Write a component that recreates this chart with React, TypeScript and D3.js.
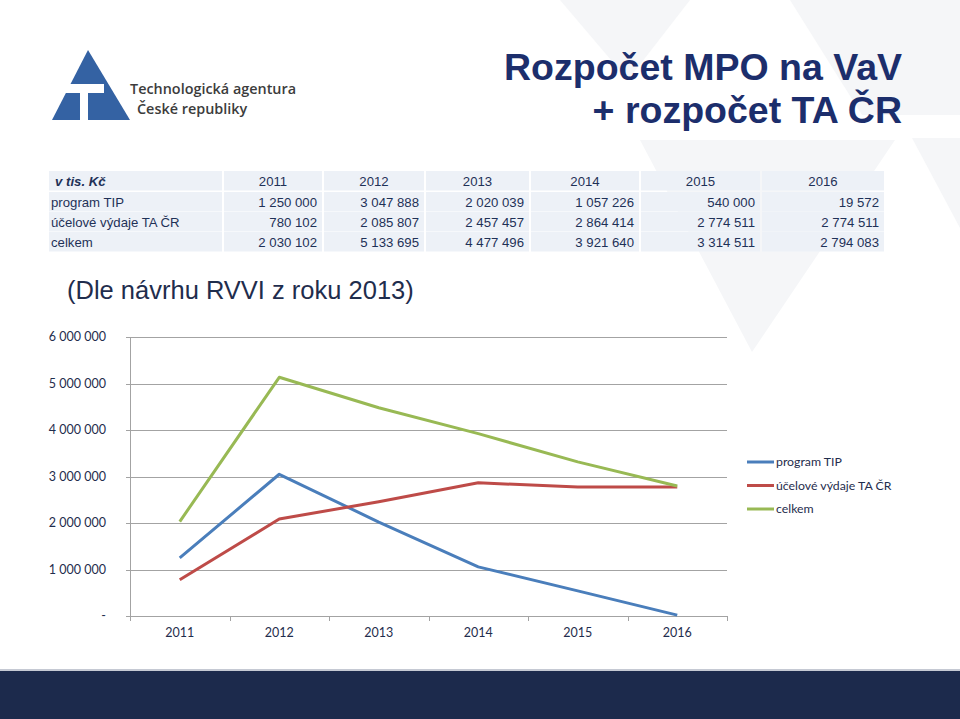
import React from "react";
import { scaleBand, scaleLinear, line, format } from "d3";

// data
const years = ["2011", "2012", "2013", "2014", "2015", "2016"];
const programTip = [1250000, 3047888, 2020039, 1057226, 540000, 19572];
const ucelove = [780102, 2085807, 2457457, 2864414, 2774511, 2774511];
const celkem = [2030102, 5133695, 4477496, 3921640, 3314511, 2794083];
const seriesNames = ["program TIP", "účelové výdaje TA ČR", "celkem"];
const yTicks = [0, 1000000, 2000000, 3000000, 4000000, 5000000, 6000000];

const colors = ["#4a7ebb", "#be4b48", "#98b954"];
const navy = "#1f2d4d";
const tableText = "#1f3157";

// table column edges (layout)
const colEdges = [48, 223, 323, 425, 530, 640, 761, 885];
const rowTops = [171, 192, 212, 232];
const rowH = 19.5;

const fmt = (v: number) => (v === 0 ? "-" : format(",")(v).replace(/,/g, " "));

function App() {
  const x = scaleBand<string>().domain(years).range([130, 727]);
  const y = scaleLinear().domain([0, 6000000]).range([616, 337]);
  const cx = (yr: string) => (x(yr) as number) + x.bandwidth() / 2;

  const allSeries = [programTip, ucelove, celkem];
  const lineGen = line<number>()
    .x((_, i) => cx(years[i]))
    .y((d) => y(d));

  const tableRows = [
    { label: "program TIP", values: programTip },
    { label: "účelové výdaje TA ČR", values: ucelove },
    { label: "celkem", values: celkem },
  ];

  return (
    <svg
      width={960}
      height={719}
      style={{ position: "absolute", left: 0, top: 0, background: "#fff" }}
    >
      {/* faint background triangles */}
      <g fill="#f5f6f8">
        <polygon points="640,140 895,140 752,352" />
        <polygon points="790,0 960,0 960,115 862,115" />
        <polygon points="912,138 960,138 960,228" />
        <polygon points="560,0 690,0 628,80" />
      </g>

      {/* logo */}
      <g>
        <polygon points="88,50 52,120 130,120" fill="#3462a3" />
        <rect x={45} y={84} width={59} height={9} fill="#fff" />
        <rect x={80} y={93} width={8} height={28} fill="#fff" />
        <text x={130} y={94} fontFamily="Open Sans" fontSize={14.4} fontWeight={600} fill="#3c3c3c">
          Technologická agentura
        </text>
        <text x={137} y={114} fontFamily="Open Sans" fontSize={14.4} fontWeight={600} fill="#3c3c3c">
          České republiky
        </text>
      </g>

      {/* title */}
      <g fontFamily="Liberation Sans, Arial" fontWeight="bold" fontSize={37.5} fill="#1c2e6c" textAnchor="end">
        <text x={902} y={80}>Rozpočet MPO na VaV</text>
        <text x={902} y={123}>+ rozpočet TA ČR</text>
      </g>

      {/* table */}
      <g fontFamily="Liberation Sans, Arial" fontSize={13.2} fill={tableText}>
        {rowTops.map((top, r) =>
          colEdges.slice(0, -1).map((e, c) => (
            <rect
              key={`c${r}-${c}`}
              x={e + 1}
              y={top}
              width={colEdges[c + 1] - e - 2}
              height={rowH}
              fill="#edf1f7"
            />
          ))
        )}
        <text x={55} y={rowTops[0] + 14.5} fontWeight="bold" fontStyle="italic">
          v tis. Kč
        </text>
        {years.map((yr, i) => (
          <text key={yr} x={(colEdges[i + 1] + colEdges[i + 2]) / 2} y={rowTops[0] + 14.5} textAnchor="middle">
            {yr}
          </text>
        ))}
        {tableRows.map((row, r) => (
          <g key={row.label}>
            <text x={51} y={rowTops[r + 1] + 14.5}>
              {row.label}
            </text>
            {row.values.map((v, i) => (
              <text key={i} x={colEdges[i + 2] - 6} y={rowTops[r + 1] + 14.5} textAnchor="end">
                {fmt(v)}
              </text>
            ))}
          </g>
        ))}
      </g>

      {/* subtitle */}
      <text x={67} y={299} fontFamily="Liberation Sans, Arial" fontSize={25.5} fill={navy}>
        (Dle návrhu RVVI z roku 2013)
      </text>

      {/* chart grid and axes */}
      <g stroke="#a3a3a3" strokeWidth={1}>
        {yTicks.map((t) => (
          <line key={t} x1={126} x2={727} y1={Math.round(y(t)) + 0.5} y2={Math.round(y(t)) + 0.5} />
        ))}
        <line x1={130.5} x2={130.5} y1={y(6000000)} y2={y(0)} />
        {years.concat(["end"]).map((yr, i) => {
          const xx = Math.round(130 + i * x.bandwidth()) + 0.5;
          return <line key={yr} x1={xx} x2={xx} y1={y(0)} y2={y(0) + 5} />;
        })}
      </g>
      <g fontFamily="Lato" fontSize={12.5} fill={navy}>
        {yTicks.map((t) => (
          <text key={t} x={106} y={y(t)} dy="0.35em" textAnchor="end">
            {fmt(t)}
          </text>
        ))}
        {years.map((yr) => (
          <text key={yr} x={cx(yr)} y={637} textAnchor="middle">
            {yr}
          </text>
        ))}
      </g>

      {/* lines */}
      {allSeries.map((s, i) => (
        <path key={i} d={lineGen(s) || ""} fill="none" stroke={colors[i]} strokeWidth={3} strokeLinejoin="round" />
      ))}

      {/* legend */}
      <g fontFamily="Lato" fontSize={12.3} fill={navy}>
        {seriesNames.map((n, i) => (
          <g key={n} transform={`translate(747, ${462 + i * 23.5})`}>
            <line x1={0} x2={27} y1={0} y2={0} stroke={colors[i]} strokeWidth={3} />
            <text x={29} y={0} dy="0.35em">
              {n}
            </text>
          </g>
        ))}
      </g>

      {/* footer bar */}
      <rect x={0} y={669} width={960} height={2} fill="#c5c9d3" />
      <rect x={0} y={671} width={960} height={48} fill="#1c2a4c" />
    </svg>
  );
}

export default App;
